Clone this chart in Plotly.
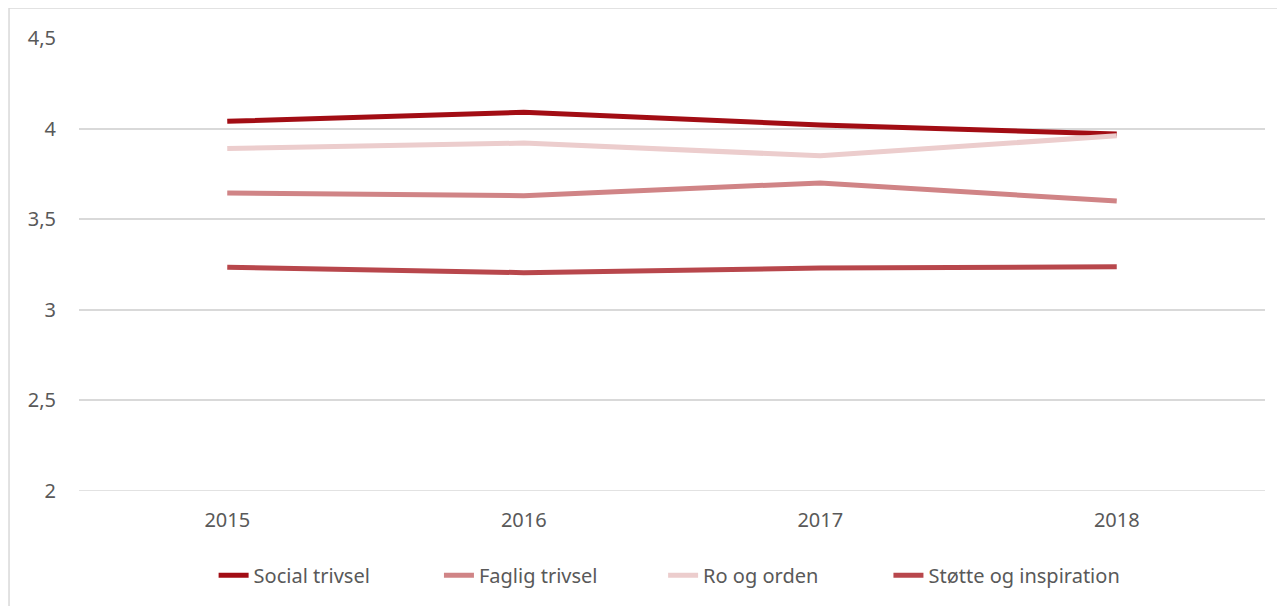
import plotly.graph_objects as go

years = ["2015", "2016", "2017", "2018"]
social_trivsel = [4.04, 4.09, 4.02, 3.97]
faglig_trivsel = [3.645, 3.63, 3.70, 3.60]
ro_og_orden = [3.89, 3.92, 3.85, 3.96]
stoette_og_inspiration = [3.235, 3.205, 3.23, 3.237]

series = [
    ("Social trivsel", social_trivsel, "#A20D14"),
    ("Faglig trivsel", faglig_trivsel, "#D08486"),
    ("Ro og orden", ro_og_orden, "#ECCDCD"),
    ("Støtte og inspiration", stoette_og_inspiration, "#B8474C"),
]
legend_ids = ["legend", "legend2", "legend3", "legend4"]
legend_x = [0.1135, 0.3035, 0.4925, 0.6825]

font_family = "Noto Sans, Open Sans, sans-serif"
fig = go.Figure()
for (name, vals, col), lid in zip(series, legend_ids):
    fig.add_trace(go.Scatter(
        x=years, y=vals, name=name, mode="lines",
        line=dict(color=col, width=5), legend=lid,
    ))

legend_common = dict(
    orientation="h", xanchor="left", y=-0.186, yanchor="middle",
    font=dict(size=20, color="#595959", family=font_family),
    bgcolor="rgba(0,0,0,0)",
)
legend_layout = {lid: dict(x=lx, **legend_common) for lid, lx in zip(legend_ids, legend_x)}

fig.update_layout(
    width=1285, height=606,
    margin=dict(l=71, r=28, t=30, b=123),
    paper_bgcolor="white", plot_bgcolor="white",
    font=dict(family=font_family, size=20, color="#595959"),
    showlegend=True,
    xaxis=dict(
        type="category", showgrid=False, zeroline=False, showline=False,
        ticks="", ticklabelstandoff=15, range=[-0.5, 3.5],
    ),
    yaxis=dict(
        range=[2, 4.5], dtick=0.5, tick0=2, showgrid=True, gridcolor="#D9D9D9",
        gridwidth=1.5, zeroline=False, showline=False, ticks="",
        ticklabelstandoff=22,
    ),
    separators=", ",
    shapes=[dict(
        type="rect", xref="paper", yref="paper",
        x0=-0.059, x1=1.03, y0=-0.3, y1=1.066,
        line=dict(color="#D9D9D9", width=1.5), layer="below",
    )],
    **legend_layout,
)
fig.add_shape(type="line", xref="paper", yref="y", x0=0, x1=1, y0=2, y1=2,
              line=dict(color="#D9D9D9", width=1.5), layer="below")
fig.write_html("out.html")
